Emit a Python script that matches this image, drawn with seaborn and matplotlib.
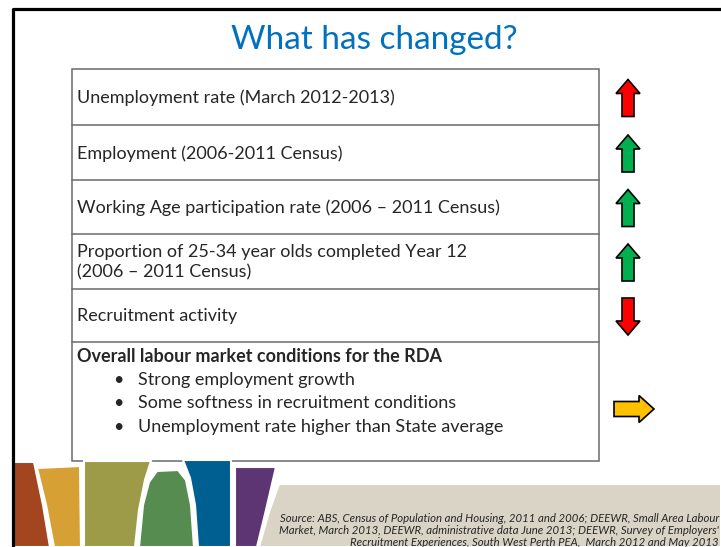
import matplotlib
matplotlib.use("Agg")
import matplotlib.pyplot as plt
from matplotlib.patches import Polygon, Rectangle
import seaborn as sns

#----------------------------------------------
''' DATA '''
#----------------------------------------------

title = "What has changed?"

row_labels = [
    "Unemployment rate (March 2012-2013)",
    "Employment (2006-2011 Census)",
    "Working Age participation rate (2006 \u2013 2011 Census)",
    "Proportion of 25-34 year olds completed Year 12\n(2006 \u2013 2011 Census)",
    "Recruitment activity",
]
row_direction = ["up", "up", "up", "up", "down"]
row_colour = ["#FF0000", "#00B050", "#00B050", "#00B050", "#FF0000"]

summary_head = "Overall labour market conditions for the RDA"
summary_points = [
    "Strong employment growth",
    "Some softness in recruitment conditions",
    "Unemployment rate higher than State average",
]
summary_direction = "right"
summary_colour = "#FFC000"

source_lines = [
    "Source: ABS, Census of Population and Housing, 2011 and 2006; DEEWR, Small Area Labour",
    "Market, March 2013, DEEWR, administrative data June 2013; DEEWR, Survey of Employers'",
    "Recruitment Experiences, South West Perth PEA,  March 2012 and May 2013",
]

# table row edges (pixels from top of slide)
row_edges = [69, 125, 180, 234, 289, 342, 461]

# decorative strip at the foot of the slide
band_colours = ["#A3461F", "#D6A035", "#9E9B48", "#578C50", "#005F91", "#5E3573", "#D9D4C5"]
band_shapes = [
    [(13, 462), (34, 462), (43, 505), (50, 547), (13, 547)],
    [(37, 468), (80, 466), (81, 547), (54, 547), (46, 505)],
    [(84, 461), (151, 461), (145, 480), (139, 510), (135, 547), (84, 547)],
    [(139, 547), (143, 505), (149, 482), (157, 471), (178, 470), (186, 480), (191, 505), (194, 547)],
    [(183, 460), (231, 460), (231, 547), (198, 547), (195, 505), (190, 478)],
    [(235, 467), (276, 467), (266, 510), (257, 547), (235, 547)],
    [(279, 484), (721, 484), (721, 547), (259, 547), (269, 512)],
]


def arrow(cx, cy, direction, length=37, width=24, shaft=12, head=14):
    # arrow pointing up, centred on (0, 0); y grows downward
    h, w, s = length / 2, width / 2, shaft / 2
    pts = [(0, -h), (w, -h + head), (s, -h + head), (s, h), (-s, h), (-s, -h + head), (-w, -h + head)]
    if direction == "down":
        pts = [(x, -y) for x, y in pts]
    elif direction == "right":
        pts = [(-y, x) for x, y in pts]
    return [(cx + x, cy + y) for x, y in pts]


#----------------------------------------------
''' PLOT '''
#----------------------------------------------

sns.set_style("white")
plt.rcParams['font.family'] = ['Lato', 'DejaVu Sans']

fig = plt.figure(figsize=(7.21, 5.47), dpi=100)
ax = fig.add_axes([0, 0, 1, 1])
ax.set_xlim(0, 721)
ax.set_ylim(547, 0)
ax.axis("off")

# slide frame
ax.plot([13, 13, 721], [547, 9, 9], color="black", lw=2.3, solid_capstyle="butt")

ax.text(374, 40, title, color="#0070C0", fontsize=24, ha="center", va="center")

# table
tx0, tx1 = 72, 599
ax.add_patch(Rectangle((tx0, row_edges[0]), tx1 - tx0, row_edges[-1] - row_edges[0],
                       fill=False, edgecolor="#6a6a6a", lw=1.1))
for y in row_edges[1:-1]:
    ax.plot([tx0, tx1], [y, y], color="#6a6a6a", lw=1.1)

fs = 13
for i, label in enumerate(row_labels):
    cy = (row_edges[i] + row_edges[i + 1]) / 2 + 1
    ax.text(tx0 + 5, cy, label, fontsize=fs, ha="left", va="center", linespacing=1.3)
    ax.add_patch(Polygon(arrow(628, cy, row_direction[i]), closed=True,
                         facecolor=row_colour[i], edgecolor="black", lw=1.2))

top = row_edges[5]
ax.text(tx0 + 5, top + 14, summary_head, fontsize=fs, fontweight="bold", ha="left", va="center")
for j, point in enumerate(summary_points):
    py = top + 38 + j * 23.5
    ax.text(118, py, "\u2022", fontsize=fs, ha="center", va="center")
    ax.text(138, py, point, fontsize=fs, ha="left", va="center")
ax.add_patch(Polygon(arrow(634, 409, summary_direction, length=40, width=27, shaft=15, head=15),
                     closed=True, facecolor=summary_colour, edgecolor="black", lw=1.2))

# decorative band
for shape, colour in zip(band_shapes, band_colours):
    ax.add_patch(Polygon(shape, closed=True, facecolor=colour, edgecolor="white", lw=1.5))

for k, line in enumerate(source_lines):
    ax.text(719, 519 + k * 12, line, fontsize=8.2, style="italic", ha="right", va="center")

fig.savefig("out.png", dpi=100)
